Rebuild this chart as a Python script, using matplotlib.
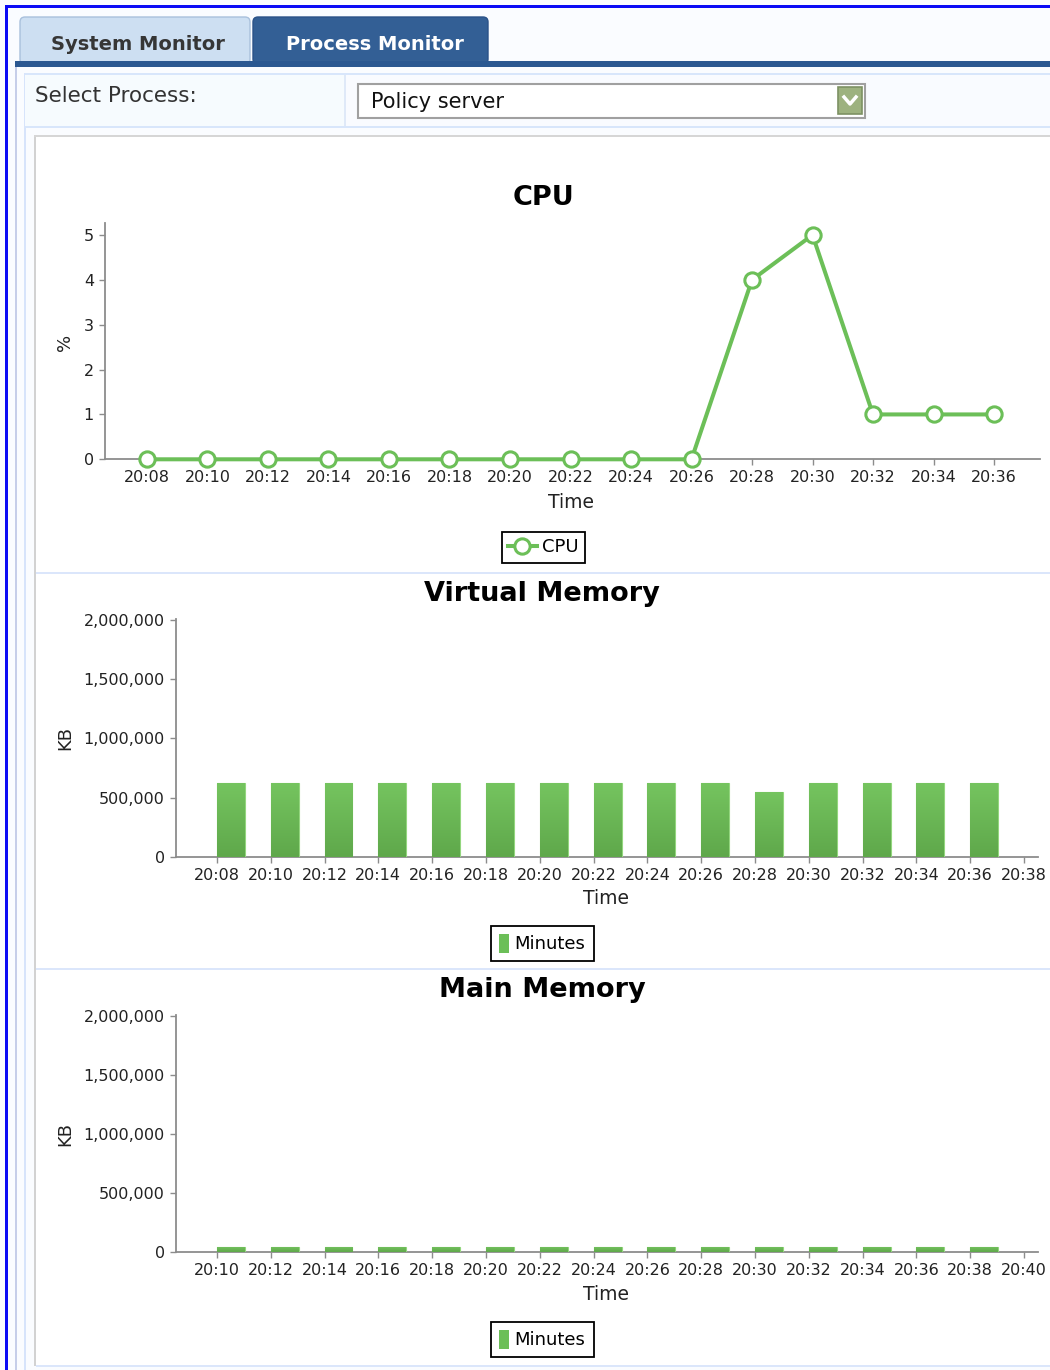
import numpy as np
import matplotlib
matplotlib.use('Agg')
import matplotlib.pyplot as plt
from matplotlib.patches import Rectangle, FancyBboxPatch
from matplotlib.lines import Line2D
from matplotlib.ticker import FuncFormatter
from matplotlib.colors import LinearSegmentedColormap

W, H = 1050, 1370

# dane wykresow
cpu_times = ['20:08', '20:10', '20:12', '20:14', '20:16', '20:18', '20:20', '20:22',
             '20:24', '20:26', '20:28', '20:30', '20:32', '20:34', '20:36']
cpu_pct = [0, 0, 0, 0, 0, 0, 0, 0, 0, 0, 4, 5, 1, 1, 1]

vm_ticks = ['20:08', '20:10', '20:12', '20:14', '20:16', '20:18', '20:20', '20:22',
            '20:24', '20:26', '20:28', '20:30', '20:32', '20:34', '20:36', '20:38']
vm_kb = [620000, 620000, 620000, 620000, 620000, 620000, 620000, 620000,
         620000, 620000, 549000, 620000, 620000, 620000, 620000]

mm_ticks = ['20:10', '20:12', '20:14', '20:16', '20:18', '20:20', '20:22', '20:24',
            '20:26', '20:28', '20:30', '20:32', '20:34', '20:36', '20:38', '20:40']
mm_kb = [45000, 45000, 45000, 45000, 45000, 45000, 45000, 45000,
         45000, 45000, 45000, 45000, 45000, 45000, 45000]

kb_ticks = [0, 500000, 1000000, 1500000, 2000000]

green = '#6cbf58'
txt = '#222222'
axis_gray = '#8c8c8c'
bar_cmap = LinearSegmentedColormap.from_list('bar', ['#5fa84b', '#75c45f'])

fig = plt.figure(figsize=(W / 100, H / 100), dpi=100)
fig.patch.set_facecolor('white')


def fx(x):
    return x / W


def fy(y):
    return 1 - y / H


def rect(x0, y0, x1, y1, **kw):
    r = Rectangle((fx(x0), fy(y1)), (x1 - x0) / W, (y1 - y0) / H,
                  transform=fig.transFigure, **kw)
    fig.add_artist(r)
    return r


def ax_rect(left, top, right, bottom):
    return [fx(left), fy(bottom), (right - left) / W, (bottom - top) / H]


# --- ramka strony ---
rect(0, 0, W, H, facecolor='#fafcff', edgecolor='none', zorder=0)
rect(5, 5, W, 8, facecolor='#0a0af5', edgecolor='none', zorder=1)
rect(5, 5, 8, H, facecolor='#0a0af5', edgecolor='none', zorder=1)
rect(15, 62, 17, H, facecolor='#c6cee9', edgecolor='none', zorder=1)
rect(24, 73, 25.5, H, facecolor='#d7e4fb', edgecolor='none', zorder=1)

# zakladki
tab1 = FancyBboxPatch((fx(20), fy(64)), (250 - 20) / W, (64 - 17) / H,
                      boxstyle='round,pad=0,rounding_size=%f' % (5 / W),
                      mutation_aspect=W / H, transform=fig.transFigure,
                      facecolor='#cddff2', edgecolor='#a9c0dc', lw=1, zorder=2)
fig.add_artist(tab1)
tab2 = FancyBboxPatch((fx(253), fy(64)), (488 - 253) / W, (64 - 17) / H,
                      boxstyle='round,pad=0,rounding_size=%f' % (5 / W),
                      mutation_aspect=W / H, transform=fig.transFigure,
                      facecolor='#335f95', edgecolor='#2a5288', lw=1, zorder=2)
fig.add_artist(tab2)
rect(15, 61, W, 67, facecolor='#2b5891', edgecolor='none', zorder=3)
fig.text(fx(138), fy(44), 'System Monitor', fontsize=14, fontweight='bold',
         color='#363636', ha='center', va='center', zorder=4)
fig.text(fx(375), fy(44), 'Process Monitor', fontsize=14, fontweight='bold',
         color='white', ha='center', va='center', zorder=4)

# wiersz wyboru procesu
rect(25, 73, W, 128, facecolor='#f6fbfe', edgecolor='none', zorder=1)
rect(345, 75, W, 127, facecolor='#f9fbff', edgecolor='none', zorder=1)
rect(25, 73, W, 75, facecolor='#d8e6fb', edgecolor='none', zorder=2)
rect(25, 126, W, 128, facecolor='#d8e6fb', edgecolor='none', zorder=2)
rect(344, 75, 346, 126, facecolor='#dfe9f8', edgecolor='none', zorder=2)
fig.text(fx(35), fy(96), 'Select Process:', fontsize=15.5, color='#333333',
         ha='left', va='center', zorder=4)
rect(358, 84, 865, 118, facecolor='white', edgecolor='#a0a0a0', lw=1.5, zorder=3)
fig.text(fx(371), fy(102), 'Policy server', fontsize=15, color='#111111',
         ha='left', va='center', zorder=4)
rect(838, 87, 862, 114, facecolor='#9db27f', edgecolor='#7d9163', lw=1.2, zorder=4)
chev = Line2D([fx(844), fx(850), fx(856)], [fy(97), fy(104), fy(97)],
              transform=fig.transFigure, color='white', lw=2.5, zorder=5)
fig.add_artist(chev)

# panel wykresow
rect(34, 135, W, 1366, facecolor='white', edgecolor='none', zorder=1)
rect(34, 135, 36, 1366, facecolor='#d2d2d2', edgecolor='none', zorder=2)
rect(34, 135, W, 137, facecolor='#d6d6d6', edgecolor='none', zorder=2)
for yy in [572, 968, 1365]:
    rect(36, yy, W, yy + 2, facecolor='#dbe6fb', edgecolor='none', zorder=2)


def style_axis(ax):
    ax.set_zorder(10)
    ax.set_facecolor('none')
    for s in ['top', 'right']:
        ax.spines[s].set_visible(False)
    for s in ['left', 'bottom']:
        ax.spines[s].set_color(axis_gray)
        ax.spines[s].set_linewidth(1.3)
    ax.tick_params(axis='both', colors=axis_gray, labelcolor=txt, length=4,
                   width=1, labelsize=11.5, pad=4)


# --- CPU ---
ax1 = fig.add_axes(ax_rect(105, 223.3, 1040, 459.3))
style_axis(ax1)
x_cpu = np.arange(len(cpu_times))
ax1.plot(x_cpu, cpu_pct, color=green, lw=2.9, marker='o', ms=11,
         mfc='white', mec=green, mew=2.2, clip_on=False, zorder=5)
ax1.set_xlim(-0.694, 14.76)
ax1.set_ylim(0, 5.26)
ax1.set_yticks([0, 1, 2, 3, 4, 5])
ax1.set_xticks(x_cpu)
ax1.set_xticklabels(cpu_times)
fig.text(fx(543), fy(198), 'CPU', fontsize=19.5, fontweight='bold', color='black',
         ha='center', va='center', zorder=11)
fig.text(fx(571), fy(503), 'Time', fontsize=13.5, color=txt, ha='center', va='center',
         zorder=11)
fig.text(fx(65), fy(342), '%', fontsize=13, color=txt, ha='center', va='center',
         rotation=90, zorder=11)
h_cpu = Line2D([], [], color=green, lw=2.9, marker='o', ms=11, mfc='white',
               mec=green, mew=2.2)
leg1 = ax1.legend([h_cpu], ['CPU'], loc='center', bbox_to_anchor=(fx(543.5), fy(547.5)),
                  bbox_transform=fig.transFigure, fancybox=False, edgecolor='black',
                  fontsize=13, handlelength=1.6, handletextpad=0.3, borderpad=0.35,
                  borderaxespad=0, framealpha=1)
leg1.get_frame().set_linewidth(1.3)


def bar_chart(rect_px, ticks, values, title, title_y, time_y, kb_y, leg_y):
    ax = fig.add_axes(ax_rect(*rect_px))
    style_axis(ax)
    xb = np.arange(len(values))
    bars = ax.bar(xb, values, width=0.52, align='edge', color=green,
                  edgecolor='#93d67e', lw=0.8, zorder=3)
    # gradient w slupkach
    grad = np.linspace(0, 1, 64).reshape(-1, 1)
    for b in bars:
        x0, y0 = b.get_x(), b.get_y()
        im = ax.imshow(grad, extent=[x0, x0 + b.get_width(), y0, y0 + b.get_height()],
                       origin='lower', aspect='auto', cmap=bar_cmap, zorder=3.5)
        im.set_clip_path(b)
    ax.set_xticks(np.arange(len(ticks)))
    ax.set_xticklabels(ticks)
    ax.set_xlim(-0.76, 15.26)
    ax.set_ylim(0, 2010000)
    ax.set_yticks(kb_ticks)
    ax.yaxis.set_major_formatter(FuncFormatter(lambda v, p: '{:,.0f}'.format(v)))
    fig.text(fx(542), fy(title_y), title, fontsize=19.5, fontweight='bold',
             color='black', ha='center', va='center', zorder=11)
    fig.text(fx(606), fy(time_y), 'Time', fontsize=13.5, color=txt, ha='center',
             va='center', zorder=11)
    fig.text(fx(65), fy(kb_y), 'KB', fontsize=13, color=txt, ha='center',
             va='center', rotation=90, zorder=11)
    h = Rectangle((0, 0), 1, 1, facecolor=green, edgecolor='none')
    leg = ax.legend([h], ['Minutes'], loc='center', bbox_to_anchor=(fx(542.5), fy(leg_y)),
                    bbox_transform=fig.transFigure, fancybox=False, edgecolor='black',
                    fontsize=13, handlelength=0.55, handleheight=1.25,
                    handletextpad=0.3, borderpad=0.45, borderaxespad=0, framealpha=1)
    leg.get_frame().set_linewidth(1.3)
    return ax


ax2 = bar_chart((176, 619, 1038, 856.7), vm_ticks, vm_kb, 'Virtual Memory',
                594, 899, 738, 943.5)
ax3 = bar_chart((176, 1015, 1038, 1252.3), mm_ticks, mm_kb, 'Main Memory',
                990, 1295, 1134, 1339.5)

fig.savefig('out.png', dpi=100)
